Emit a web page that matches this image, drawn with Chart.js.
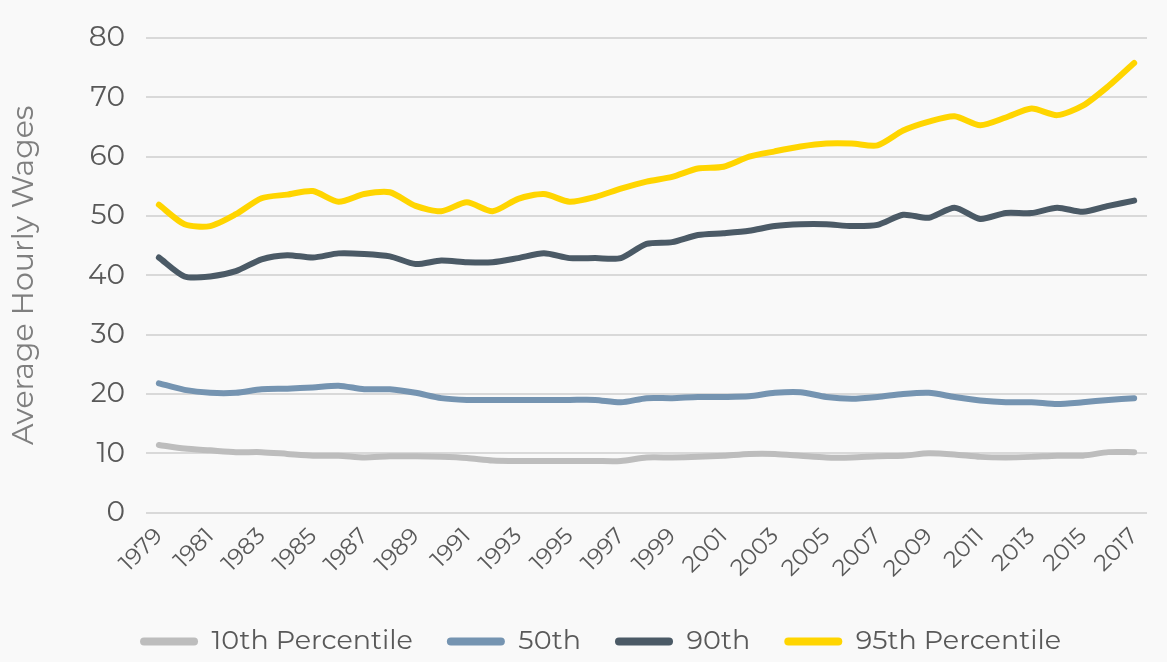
<!DOCTYPE html>
<html>
<head>
<meta charset="utf-8">
<script src="https://cdn.jsdelivr.net/npm/chart.js@4"></script>
<style>
    html, body { margin: 0; padding: 0; background: #f9f9f9; }
    #wrap { width: 1167px; height: 662px; }
</style>
</head>
<body>
<div id="wrap"><canvas id="wages-plot"></canvas></div>
<script>
const years = [];
for (let y = 1979; y <= 2017; y++) years.push(String(y));

const p10 = [11.4, 10.8, 10.5, 10.2, 10.2, 9.9, 9.6, 9.6, 9.3, 9.5, 9.5, 9.4, 9.2, 8.8, 8.7, 8.7, 8.7, 8.7, 8.7,
    9.3, 9.3, 9.4, 9.6, 9.9, 9.9, 9.6, 9.3, 9.3, 9.5, 9.6, 10.0, 9.8, 9.4, 9.3, 9.4, 9.6, 9.6, 10.2, 10.2];
const p50 = [21.8, 20.7, 20.2, 20.2, 20.8, 20.9, 21.1, 21.4, 20.8, 20.8, 20.2, 19.3, 19.0, 19.0, 19.0, 19.0, 19.0, 19.0, 18.6,
    19.3, 19.3, 19.5, 19.5, 19.6, 20.2, 20.3, 19.5, 19.2, 19.5, 20.0, 20.2, 19.5, 18.9, 18.6, 18.6, 18.3, 18.6, 19.0, 19.3];
const p90 = [43.0, 39.8, 39.8, 40.7, 42.7, 43.4, 43.0, 43.7, 43.6, 43.2, 41.9, 42.5, 42.2, 42.2, 42.9, 43.7, 42.9, 42.9, 42.9,
    45.3, 45.6, 46.8, 47.1, 47.5, 48.3, 48.6, 48.6, 48.3, 48.5, 50.2, 49.7, 51.4, 49.5, 50.5, 50.5, 51.4, 50.7, 51.7, 52.6];
const p95 = [51.9, 48.6, 48.3, 50.3, 53.0, 53.6, 54.2, 52.4, 53.7, 54.0, 51.7, 50.8, 52.3, 50.8, 52.9, 53.7, 52.4, 53.2, 54.6,
    55.8, 56.6, 58.0, 58.3, 60.0, 60.9, 61.7, 62.2, 62.2, 61.9, 64.4, 65.9, 66.8, 65.3, 66.6, 68.1, 67.0, 68.6, 71.9, 75.8];

const fontFamily = "Montserrat, 'Noto Sans', sans-serif";

function line(label, data, color) {
    return {
        label: label,
        data: data,
        borderColor: color,
        backgroundColor: color,
        borderWidth: 6,
        borderCapStyle: "round",
        borderJoinStyle: "round",
        pointRadius: 0,
        tension: 0.25,
    };
}

// shrink the legend box so its row sits nearer the bottom edge,
// and nudge it to the right like in the original
const legendPlace = {
    id: "legendPlace",
    beforeInit(chart) {
        const fit = chart.legend.fit;
        chart.legend.fit = function () {
            fit.bind(chart.legend)();
            this.height = 68;
        };
    },
    afterLayout(chart) {
        chart.legend.left += 24;
        chart.legend.right += 24;
    }
};

const ctx = document.getElementById("wages-plot").getContext("2d");
const wageChart = new Chart(ctx, {
    type: "line",
    data: {
        labels: years,
        datasets: [
            line("10th Percentile", p10, "#bdbdbd"),
            line("50th", p50, "#7594b1"),
            line("90th", p90, "#4b5a66"),
            line("95th Percentile", p95, "#ffd500"),
        ]
    },
    options: {
        responsive: true,
        maintainAspectRatio: false,
        animation: false,
        layout: {
            padding: { top: 38, bottom: 0, left: 6, right: 20 }
        },
        scales: {
            x: {
                offset: true,
                grid: { display: false },
                border: { display: false },
                ticks: {
                    autoSkip: false,
                    maxRotation: 45,
                    minRotation: 45,
                    padding: 2,
                    color: "#595959",
                    font: { family: fontFamily, size: 23 },
                    callback: (value, index) => index % 2 === 0 ? years[index] : "",
                },
                title: {
                    display: true,
                    text: " ",
                    font: { size: 1 },
                    padding: { top: 0, bottom: 8 },
                },
            },
            y: {
                min: 0,
                max: 80,
                border: { display: false },
                grid: { color: "#d9d9d9", lineWidth: 2, drawTicks: false },
                ticks: {
                    stepSize: 10,
                    padding: 21,
                    color: "#595959",
                    font: { family: fontFamily, size: 28 },
                },
                title: {
                    display: true,
                    text: "Average Hourly Wages",
                    color: "#7f7f7f",
                    font: { family: fontFamily, size: 30 },
                    padding: { top: 0, bottom: 25 },
                },
            }
        },
        plugins: {
            legend: {
                position: "bottom",
                labels: {
                    boxWidth: 58,
                    boxHeight: 8,
                    padding: 34,
                    color: "#595959",
                    font: { family: fontFamily, size: 27 },
                    useBorderRadius: true,
                    borderRadius: 4,
                    generateLabels: (chart) => {
                        const items = Chart.defaults.plugins.legend.labels.generateLabels(chart);
                        return items.map(it => Object.assign(it, { lineWidth: 0 }));
                    },
                },
            },
            tooltip: { enabled: false },
        },
    },
    plugins: [legendPlace],
});
</script>
</body>
</html>
